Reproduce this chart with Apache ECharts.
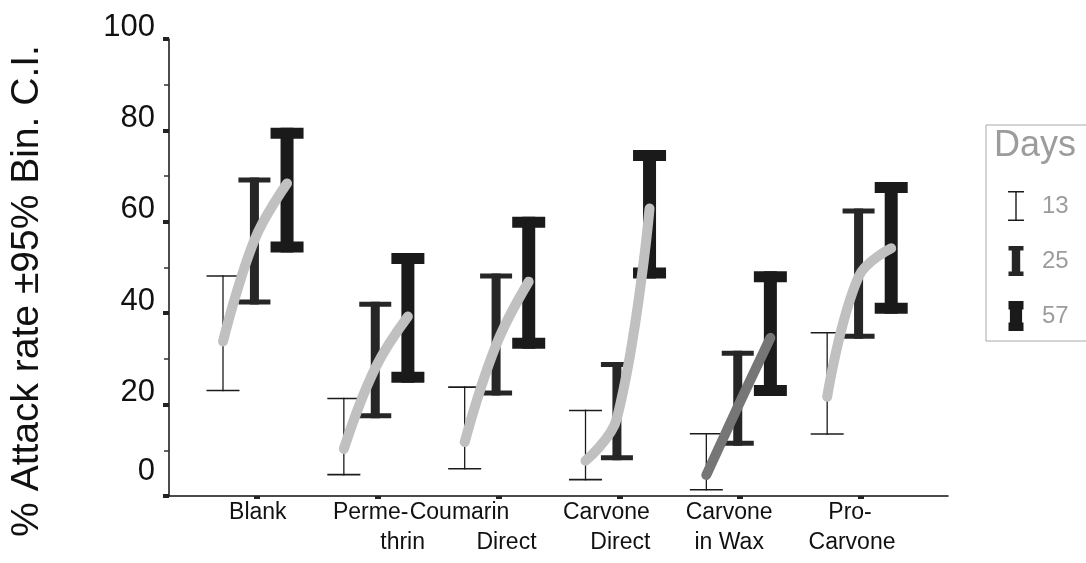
<!DOCTYPE html>
<html><head><meta charset="utf-8">
<script src="https://cdn.jsdelivr.net/npm/echarts@6/dist/echarts.min.js"></script>
<style>html,body{margin:0;padding:0;background:#fff}#c{width:1086px;height:563px}</style>
</head><body><div id="c"></div>
<script>
// ---- data ----
const categories = ['Blank', 'Perme-\nthrin', 'Coumarin\nDirect', 'Carvone\nDirect', 'Carvone\nin Wax', 'Pro-\nCarvone'];
const days = ['13', '25', '57'];
const low13  = [22.9, 4.5, 5.8, 3.4, 1.2, 13.4];
const high13 = [48.3, 21.5, 24.0, 18.9, 13.8, 35.9];
const low25  = [41.9, 17.0, 22.0, 7.8, 11.0, 34.4];
const high25 = [69.7, 42.5, 48.7, 29.3, 31.8, 62.9];
const low57  = [53.3, 24.8, 32.2, 47.6, 21.9, 39.9];
const high57 = [80.6, 53.2, 61.1, 75.7, 49.2, 68.7];
const mean13 = [33.8, 10.3, 11.8, 7.7, 4.6, 21.7];
const mean25 = [56.0, 28.0, 33.0, 17.0, 19.5, 48.0];
const mean57 = [68.4, 39.3, 46.9, 62.9, 34.6, 54.2];
const yTickValues = [0, 20, 40, 60, 80, 100];

// ---- layout / style ----
const FONT = "'Liberation Sans', Arial, sans-serif";
const dayOffset = [-0.28, -0.02, 0.25];
const barStyle = [
  { stem: 1.3, capW: 33, capH: 1.6, color: '#1c1c1c' },
  { stem: 9, capW: 32, capH: 5, color: '#262626' },
  { stem: 13, capW: 33, capH: 11, color: '#1a1a1a' }
];
const line1Shift = [1, -7, -39, -13, -11, -11];   // px
const line2Shift = [0, 25, 8, 1, -11, -9];        // px
const PX_PER_UNIT = 121;

const lines1 = categories.map(c => c.split('\n')[0]);
const lines2 = categories.map(c => c.split('\n')[1] || '');
const catPos = categories.map((c, i) => i + 1);
const line1Pos = catPos.map((p, i) => p + line1Shift[i] / PX_PER_UNIT);
const line2Pos = catPos.map((p, i) => p + line2Shift[i] / PX_PER_UNIT).filter((p, i) => lines2[i] !== '');

const lows = [low13, low25, low57];
const highs = [high13, high25, high57];
const means = [mean13, mean25, mean57];

function errSeries(d) {
  return {
    type: 'custom',
    name: days[d],
    z: 2,
    silent: true,
    itemStyle: { color: barStyle[d].color },
    encode: { x: 0, y: [1, 2] },
    data: lows[d].map((l, i) => [catPos[i] + dayOffset[d], l, highs[d][i]]),
    renderItem(params, api) {
      const x = api.value(0);
      const pLow = api.coord([x, api.value(1)]);
      const pHigh = api.coord([x, api.value(2)]);
      const s = barStyle[d];
      const fill = api.visual('color');
      return {
        type: 'group',
        children: [
          { type: 'rect', shape: { x: pHigh[0] - s.stem / 2, y: pHigh[1], width: s.stem, height: pLow[1] - pHigh[1] }, style: { fill } },
          { type: 'rect', shape: { x: pHigh[0] - s.capW / 2, y: pHigh[1], width: s.capW, height: s.capH }, style: { fill } },
          { type: 'rect', shape: { x: pLow[0] - s.capW / 2, y: pLow[1] - s.capH, width: s.capW, height: s.capH }, style: { fill } }
        ]
      };
    }
  };
}

const lineSeries = categories.map((c, i) => ({
  type: 'line',
  name: 'trend-' + i,
  z: 5,
  silent: true,
  smooth: 0.4,
  symbol: 'none',
  data: [0, 1, 2].map(d => [catPos[i] + dayOffset[d], means[d][i]]),
  lineStyle: { width: 10, color: i === 4 ? '#767676' : '#c0c0c0', cap: 'round', join: 'round' }
}));

const chart = echarts.init(document.getElementById('c'), null, { renderer: 'canvas' });
chart.setOption({
  backgroundColor: '#fff',
  animation: false,
  textStyle: { fontFamily: FONT },
  grid: { left: 168, right: 138, top: 39, bottom: 67, containLabel: false },
  title: {
    text: 'Days', left: 994, top: 128, padding: 0,
    textStyle: { fontSize: 36, fontWeight: 'normal', color: '#9c9c9c', fontFamily: FONT }
  },
  legend: {
    orient: 'vertical', left: 986, top: 125,
    padding: [66, 40, 10, 22],
    itemWidth: 16, itemHeight: 30, itemGap: 25,
    borderColor: '#a8a8a8', borderWidth: 1,
    selectedMode: false,
    textStyle: { fontSize: 24, color: '#9c9c9c', fontFamily: FONT, padding: [0, 0, 0, 13] },
    data: [
      { name: '13', icon: 'path://M0,0h16v1.6h-7.3v26.8h7.3v1.6h-16v-1.6h7.3v-26.8h-7.3z' },
      { name: '25', icon: 'path://M0,0h15v4.5h-3.3v21h3.3v4.5h-15v-4.5h3.3v-21h-3.3z' },
      { name: '57', icon: 'path://M0,0h16v9h-1.5v14h1.5v9h-16v-9h1.5v-14h-1.5z' }
    ]
  },
  xAxis: [{
    type: 'value', min: 0.273, max: 6.72,
    axisLine: { show: true, onZero: false, lineStyle: { color: '#111', width: 1.5 } },
    axisTick: { show: true, customValues: catPos, length: 3, lineStyle: { width: 6, color: '#222' } },
    axisLabel: {
      show: true, customValues: line1Pos, margin: 5,
      fontSize: 23, color: '#111', fontFamily: FONT,
      formatter: v => lines1[Math.round(v) - 1]
    },
    splitLine: { show: false }
  }, {
    type: 'value', min: 0.273, max: 6.72, position: 'bottom', offset: 30,
    axisLine: { show: false }, axisTick: { show: false },
    axisLabel: {
      show: true, customValues: line2Pos, margin: 5,
      fontSize: 23, color: '#111', fontFamily: FONT,
      formatter: v => lines2[Math.round(v) - 1]
    },
    splitLine: { show: false }
  }],
  yAxis: {
    type: 'value', min: 0, max: 100, interval: 20,
    axisLine: { show: true, lineStyle: { color: '#111', width: 1.5 } },
    axisTick: { show: true, customValues: yTickValues, length: 6, lineStyle: { width: 4, color: '#222' } },
    minorTick: { show: true, splitNumber: 2, length: 5, lineStyle: { width: 1.5, color: '#333' } },
    splitLine: { show: false },
    axisLabel: {
      customValues: yTickValues,
      fontSize: 31, color: '#111', margin: 14, fontFamily: FONT,
      padding: [0, 0, 24, 0],
      formatter: v => (v === 0 ? '{z|0}' : String(v)),
      rich: { z: { fontSize: 31, color: '#111', fontFamily: FONT, padding: [0, 0, 26, 0] } }
    },
    name: '% Attack rate ±95% Bin. C.I.',
    nameLocation: 'middle', nameRotate: 90, nameGap: 122,
    nameTextStyle: { fontSize: 39, color: '#111', fontFamily: FONT, padding: [0, 47, 0, 0] }
  },
  series: [errSeries(0), errSeries(1), errSeries(2)].concat(lineSeries)
});
</script>
</body></html>
